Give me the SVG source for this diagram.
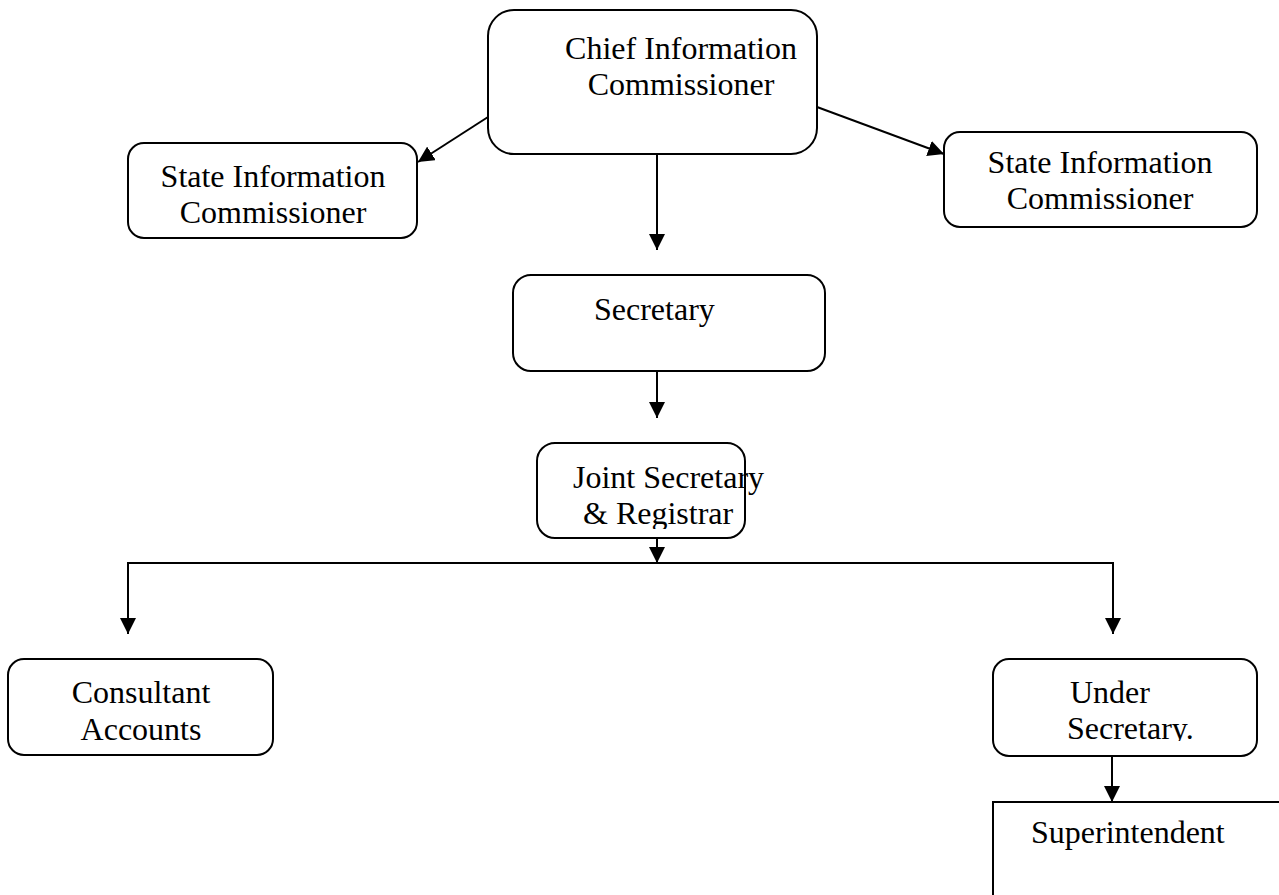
<svg xmlns="http://www.w3.org/2000/svg" width="1279" height="895" viewBox="0 0 1279 895">
<style>
.box{fill:#fff;stroke:#000;stroke-width:2}
.t{font-family:"Liberation Serif","Times New Roman",serif;font-size:32px;fill:#000}
.c{text-anchor:middle}
.ln{fill:none;stroke:#000;stroke-width:2}
</style>
<defs>
<marker id="ah" markerUnits="userSpaceOnUse" markerWidth="16" markerHeight="16" refX="16" refY="8" orient="auto">
<path d="M0,0 L16,8 L0,16 z" fill="#000"/>
</marker>
<clipPath id="clipJoint"><rect x="530" y="440" width="260" height="89"/></clipPath>
<clipPath id="clipUnder"><rect x="990" y="655" width="270" height="86"/></clipPath>
</defs>
<rect width="1279" height="895" fill="#fff"/>
<g id="connectors">
<line class="ln" x1="488" y1="117" x2="418" y2="162" marker-end="url(#ah)"/>
<line class="ln" x1="817" y1="107" x2="944" y2="154" marker-end="url(#ah)"/>
<line class="ln" x1="657" y1="154" x2="657" y2="250" marker-end="url(#ah)"/>
<line class="ln" x1="657" y1="371" x2="657" y2="418" marker-end="url(#ah)"/>
<line class="ln" x1="657" y1="538" x2="657" y2="563" marker-end="url(#ah)"/>
<polyline class="ln" points="128,620 128,563 1113,563 1113,620"/>
<line class="ln" x1="128" y1="563" x2="128" y2="634" marker-end="url(#ah)"/>
<line class="ln" x1="1113" y1="563" x2="1113" y2="634" marker-end="url(#ah)"/>
<line class="ln" x1="1112" y1="756" x2="1112" y2="802" marker-end="url(#ah)"/>
</g>
<g id="chief">
<rect class="box" x="488" y="10" width="329" height="144" rx="26"/>
<text class="t c" x="681" y="59">Chief Information</text>
<text class="t c" x="681" y="95">Commissioner</text>
</g>
<g id="state-left">
<rect class="box" x="128" y="143" width="289" height="95" rx="16"/>
<text class="t c" x="273" y="187">State Information</text>
<text class="t c" x="273" y="223">Commissioner</text>
</g>
<g id="state-right">
<rect class="box" x="944" y="132" width="313" height="95" rx="16"/>
<text class="t c" x="1100" y="173">State Information</text>
<text class="t c" x="1100" y="209">Commissioner</text>
</g>
<g id="secretary">
<rect class="box" x="513" y="275" width="312" height="96" rx="18"/>
<text class="t" x="594" y="320">Secretary</text>
</g>
<g id="joint-secretary">
<rect class="box" x="537" y="443" width="208" height="95" rx="18"/>
<g clip-path="url(#clipJoint)">
<text class="t" x="573" y="488">Joint Secretary</text>
<text class="t" x="583" y="524">&amp; Registrar</text>
</g>
</g>
<g id="consultant">
<rect class="box" x="8" y="659" width="265" height="96" rx="16"/>
<text class="t c" x="141" y="703">Consultant</text>
<text class="t c" x="141" y="740">Accounts</text>
</g>
<g id="under-secretary">
<rect class="box" x="993" y="659" width="264" height="97" rx="16"/>
<g clip-path="url(#clipUnder)">
<text class="t" x="1070" y="703">Under</text>
<text class="t" x="1067" y="739">Secretary.</text>
</g>
</g>
<g id="superintendent">
<rect class="box" x="993" y="802" width="320" height="120"/>
<text class="t" x="1031" y="843">Superintendent</text>
</g>
</svg>
